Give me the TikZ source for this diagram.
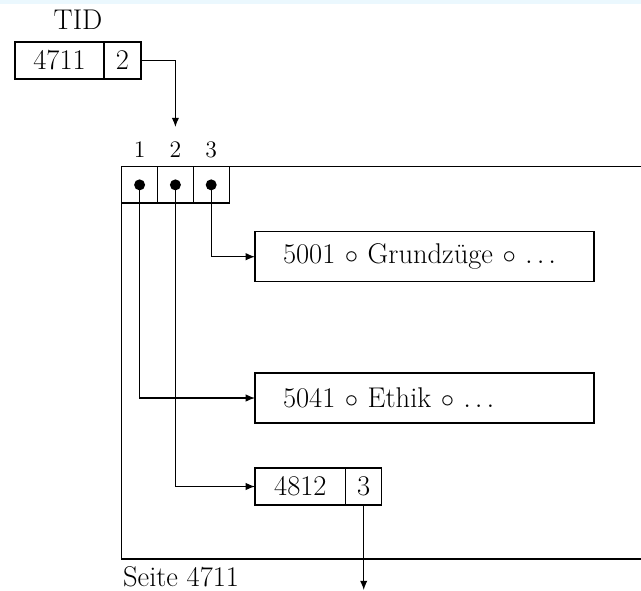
\documentclass[tikz,border=0pt]{standalone}
\usepackage{amsmath, amssymb}
\usetikzlibrary{positioning, arrows.meta}

\newcommand{\pix}{0.54pt}
\newcommand{\bigtext}{\fontsize{15.4}{18}\selectfont}
\newcommand{\numtext}{\fontsize{12.8}{15}\selectfont}

\begin{document}
\begin{tikzpicture}[x=\pix, y=-\pix, line width=0.65pt, font=\bigtext,
    cell/.style={draw, outer sep=0pt, inner sep=0pt, minimum height=37*\pix},
    record/.style={draw, outer sep=0pt, inner xsep=28*\pix, minimum height=50*\pix,
        text width=283*\pix, align=left},
    dot/.style={circle, fill, inner sep=0pt, minimum size=11*\pix},
    ptr/.style={-{Latex[length=5pt, width=4pt]}}]
    \useasboundingbox (0,0) rectangle (641,590);
    \fill[cyan!8] (0,0) rectangle (641,4); % top strip

    % tuple identifier: page 4711, slot 2
    \node[anchor=base] (tid) at (78,29) {TID};
    \node[cell, minimum width=89*\pix, anchor=north west] (tidpage) at (15,42) {4711};
    \node[cell, minimum width=37*\pix, right=0pt of tidpage] (tidslot) {2};
    \coordinate (tidtip) at (175.4,127);
    \draw[ptr] (tidslot.east) -| (tidtip);

    % the page (cut off on the right) with its slot array
    \node[draw, outer sep=0pt, minimum width=600*\pix, minimum height=392.3*\pix,
        anchor=north west] (page) at (121.7,166.7) {};
    \foreach \i in {1,2,3}{
        \node[cell, minimum width=35.8*\pix, minimum height=36.3*\pix, anchor=north west]
            (slot\i) at ({121.7+(\i-1)*35.8},166.7) {};
        \node[dot] (dot\i) at (slot\i) {};
        \node[anchor=base, font=\numtext] (num\i) at ({139.6+(\i-1)*35.8},157) {\i};
    }
    \node[anchor=base west, inner sep=0pt] (pagename) at (122.5,586) {Seite 4711};

    % records stored on the page
    \node[record, anchor=north west] (r5001) at (255,231.7) {5001 $\circ$ Grundzüge $\circ$ $\ldots$};
    \node[record, anchor=north west] (r5041) at (255,373) {5041 $\circ$ Ethik $\circ$ $\ldots$};
    \node[cell, minimum width=90.7*\pix, anchor=north west] (r4812) at (255,468) {4812};
    \node[cell, minimum width=36*\pix, right=0pt of r4812] (r4812slot) {3};
    \coordinate (nexttip) at (363.7,590);

    % pointers from the slots to the records
    \draw[ptr] (dot3.center) |- (r5001.west);
    \draw[ptr] (dot1.center) |- (r5041.west);
    \draw[ptr] (dot2.center) |- (r4812.west);
    \draw[ptr] (r4812slot.south) -- (nexttip); % forward to another page
\end{tikzpicture}
\end{document}
